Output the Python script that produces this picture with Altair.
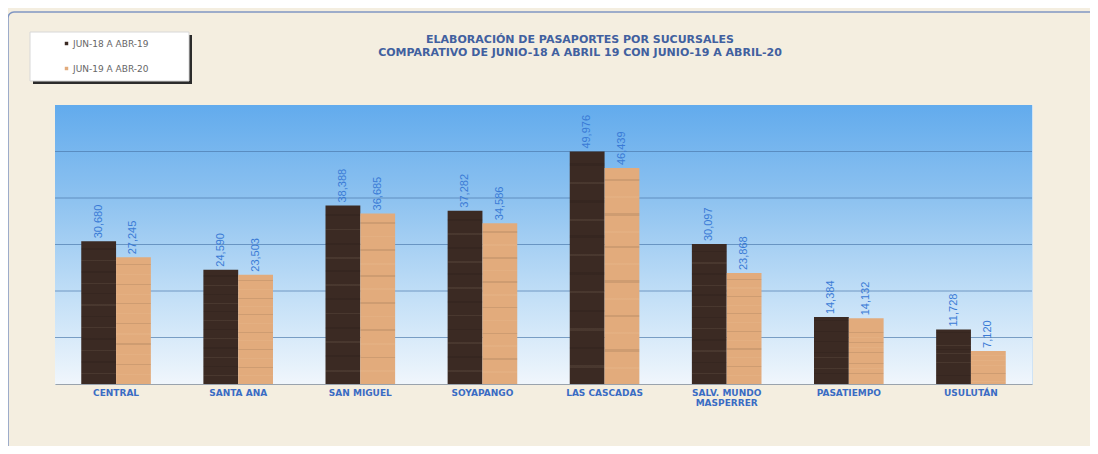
import altair as alt
import pandas as pd

categories = ["CENTRAL", "SANTA ANA", "SAN MIGUEL", "SOYAPANGO", "LAS CASCADAS",
              "SALV. MUNDO|MASPERRER", "PASATIEMPO", "USULUTÁN"]
series_names = ["JUN-18 A ABR-19", "JUN-19 A ABR-20"]
values_1819 = [30680, 24590, 38388, 37282, 49976, 30097, 14384, 11728]
values_1920 = [27245, 23503, 36685, 34586, 46439, 23868, 14132, 7120]
grid_values = [10000, 20000, 30000, 40000, 50000]
title_lines = ["ELABORACIÓN  DE PASAPORTES POR SUCURSALES",
               "COMPARATIVO DE JUNIO-18 A ABRIL 19 CON JUNIO-19 A ABRIL-20"]

rows = []
for c, a, b in zip(categories, values_1819, values_1920):
    rows.append({"cat": c, "serie": series_names[0], "val": a})
    rows.append({"cat": c, "serie": series_names[1], "val": b})
df = pd.DataFrame(rows)
one = pd.DataFrame({"k": [0]})
grid_df = pd.DataFrame({"g": grid_values})
title_df = pd.DataFrame({"t": [title_lines]})

W, H = 977, 279
FONT = "Liberation Sans"
WIDE = "DejaVu Sans"

yscale = alt.Scale(domain=[0, 60000], nice=False)
xscale = alt.Scale(domain=categories, paddingInner=0.43, paddingOuter=0.215)

frame = alt.Chart(one).mark_rect(
    fillOpacity=0, stroke="#8096c2", strokeWidth=1.5, cornerRadius=6
).encode(x=alt.value(-47), x2=alt.value(1110), y=alt.value(-93), y2=alt.value(380))

shadow = alt.Chart(one).mark_rect(fill="#2b2b2b").encode(
    x=alt.value(-22), x2=alt.value(137), y=alt.value(-70), y2=alt.value(-21))
box = alt.Chart(one).mark_rect(fill="#ffffff", stroke="#d8d8d8").encode(
    x=alt.value(-25), x2=alt.value(134), y=alt.value(-73), y2=alt.value(-24))

title = alt.Chart(title_df).mark_text(
    font=WIDE, fontSize=11, fontWeight="bold", color="#41609f",
    align="center", baseline="middle", lineHeight=13
).encode(text="t", x=alt.value(525), y=alt.value(-65))

bg = alt.Chart(one).mark_rect(
    color=alt.Gradient(
        gradient="linear", x1=0, y1=0, x2=0, y2=1,
        stops=[alt.GradientStop(color="#62abed", offset=0),
               alt.GradientStop(color="#8fc3f0", offset=0.35),
               alt.GradientStop(color="#c4e0f7", offset=0.7),
               alt.GradientStop(color="#f0f6fc", offset=1)])
).encode(x=alt.value(0), x2=alt.value(W), y=alt.value(0), y2=alt.value(H))

grid = alt.Chart(grid_df).mark_rule(color="#4a78ab", strokeWidth=0.8, opacity=0.85).encode(
    y=alt.Y("g:Q", scale=yscale, axis=None))

bars = alt.Chart(df).mark_bar().encode(
    x=alt.X("cat:N", scale=xscale, sort=categories, title=None,
            axis=alt.Axis(labelExpr="split(datum.label, '|')", labelAngle=0,
                          labelFont=WIDE, labelFontSize=9, labelFontWeight="bold",
                          labelColor="#3a6cc4", labelPadding=4, ticks=False,
                          domainColor="#9aa3ad", labelLineHeight=10, zindex=1)),
    xOffset=alt.XOffset("serie:N", sort=series_names),
    y=alt.Y("val:Q", scale=yscale, axis=None),
    color=alt.Color("serie:N", sort=series_names,
                    scale=alt.Scale(domain=series_names, range=["#3b2a23", "#e2ab7c"]),
                    legend=alt.Legend(title=None, orient="none", legendX=7, legendY=-66,
                                      padding=0, rowPadding=15, symbolType="square",
                                      symbolSize=12, labelFont=WIDE, labelFontSize=9,
                                      labelColor="#666666", labelOffset=2)),
)

# subtle horizontal wood grain overlay
stripe_offsets = [0.05, 0.13, 0.21, 0.29, 0.36, 0.44, 0.52, 0.6, 0.68, 0.76, 0.84, 0.92]
stops = [alt.GradientStop(color="rgba(0,0,0,0)", offset=0)]
for i, o in enumerate(stripe_offsets):
    c = "rgba(0,0,0,0.09)" if i % 2 == 0 else "rgba(255,235,200,0.07)"
    stops += [alt.GradientStop(color="rgba(0,0,0,0)", offset=o),
              alt.GradientStop(color=c, offset=o),
              alt.GradientStop(color=c, offset=o + 0.01),
              alt.GradientStop(color="rgba(0,0,0,0)", offset=o + 0.01)]
stops.append(alt.GradientStop(color="rgba(0,0,0,0)", offset=1))

grain = alt.Chart(df).mark_bar(
    color=alt.Gradient(gradient="linear", x1=0, y1=0, x2=0, y2=1, stops=stops)
).encode(
    x=alt.X("cat:N", scale=xscale, sort=categories),
    xOffset=alt.XOffset("serie:N", sort=series_names),
    y=alt.Y("val:Q", scale=yscale),
)

labels = alt.Chart(df).mark_text(
    angle=270, align="left", baseline="middle", dx=3, font=FONT, fontSize=11,
    color="#3a7bd6"
).encode(
    x=alt.X("cat:N", scale=xscale, sort=categories),
    xOffset=alt.XOffset("serie:N", sort=series_names),
    y=alt.Y("val:Q", scale=yscale),
    text=alt.Text("val:Q", format=","),
)

chart = alt.layer(frame, shadow, box, title, bg, grid, bars, grain, labels).properties(
    width=W, height=H,
    autosize=alt.AutoSizeParams(type="none"),
    padding={"left": 47, "top": 97, "right": 58, "bottom": 62},
).configure(background="#f4eee0").configure_view(stroke="#cfe3f5")

chart.save("out.html", embed_options={"renderer": "svg", "actions": False})
